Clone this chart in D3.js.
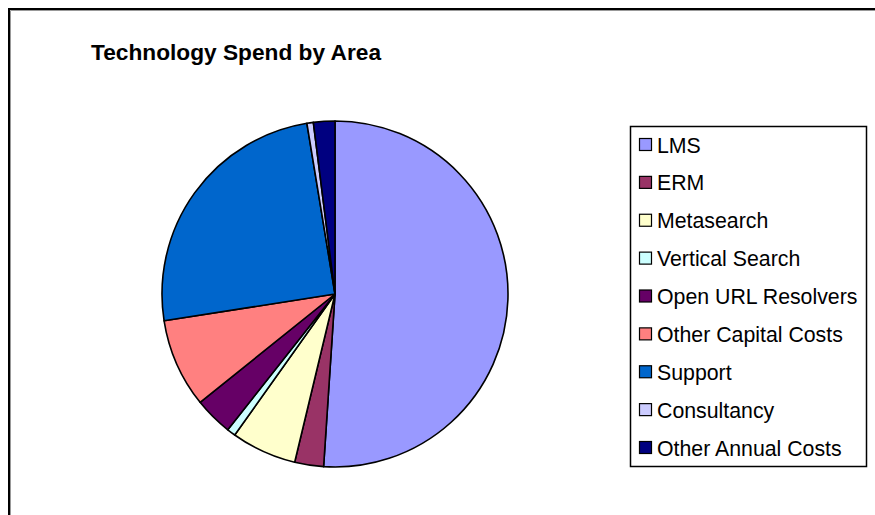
<!DOCTYPE html>
<html>
<head>
<meta charset="utf-8">
<script src="https://cdn.jsdelivr.net/npm/d3@7"></script>
<style>
  html, body { margin: 0; padding: 0; background: #fff; }
  svg { display: block; }
</style>
</head>
<body>
<svg id="chart" width="875" height="515"></svg>
<script>
// Spend share by area (percent of total)
const categories = ["LMS", "ERM", "Metasearch", "Vertical Search", "Open URL Resolvers",
                    "Other Capital Costs", "Support", "Consultancy", "Other Annual Costs"];
const values = [51.1, 2.7, 6.1, 0.8, 3.6, 8.3, 24.9, 0.6, 2.0];
const colors = ["#9999FF", "#993366", "#FFFFCC", "#CCFFFF", "#660066",
                "#FF8080", "#0066CC", "#CCCCFF", "#000080"];
const title = "Technology Spend by Area";

const svg = d3.select("#chart");

// Chart frame (runs off the right and bottom of the page)
svg.append("rect")
  .attr("x", 9).attr("y", 9).attr("width", 900).attr("height", 540)
  .attr("fill", "#fff").attr("stroke", "#000").attr("stroke-width", 2);
svg.append("path")
  .attr("d", "M10.5,560 V10.5 H880")
  .attr("fill", "none").attr("stroke", "#999").attr("stroke-width", 1);

// Title
svg.append("text")
  .attr("x", 91).attr("y", 60)
  .attr("font-family", "Liberation Sans, Arial, sans-serif")
  .attr("font-weight", "bold").attr("font-size", 22)
  .attr("textLength", 290).attr("lengthAdjust", "spacingAndGlyphs")
  .attr("fill", "#000")
  .text(title);

// Pie
const cx = 335, cy = 294, radius = 173;
const color = d3.scaleOrdinal().domain(categories).range(colors);
const pie = d3.pie().sort(null).value(d => d.value);
const arc = d3.arc().innerRadius(0).outerRadius(radius);
const data = categories.map((c, i) => ({ name: c, value: values[i] }));

svg.append("g")
  .attr("transform", `translate(${cx},${cy})`)
  .selectAll("path")
  .data(pie(data))
  .join("path")
  .attr("d", arc)
  .attr("fill", d => color(d.data.name))
  .attr("stroke", "#000")
  .attr("stroke-width", 1.6)
  .attr("stroke-linejoin", "round");

// Legend
const legend = svg.append("g");
legend.append("rect")
  .attr("x", 630.5).attr("y", 126.5).attr("width", 236).attr("height", 340)
  .attr("fill", "#fff").attr("stroke", "#000").attr("stroke-width", 1.5);

const rowY = d3.scalePoint().domain(categories).range([145, 448]);
const rows = legend.selectAll("g.row")
  .data(categories)
  .join("g")
  .attr("class", "row")
  .attr("transform", d => `translate(0,${rowY(d)})`);
rows.append("rect")
  .attr("x", 639.5).attr("y", -6.5).attr("width", 12).attr("height", 12)
  .attr("fill", d => color(d)).attr("stroke", "#000").attr("stroke-width", 1.2);
rows.append("text")
  .attr("x", 657).attr("y", 7.5)
  .attr("font-family", "Liberation Sans, Arial, sans-serif")
  .attr("font-size", 21.3)
  .attr("fill", "#000")
  .text(d => d);
</script>
</body>
</html>
